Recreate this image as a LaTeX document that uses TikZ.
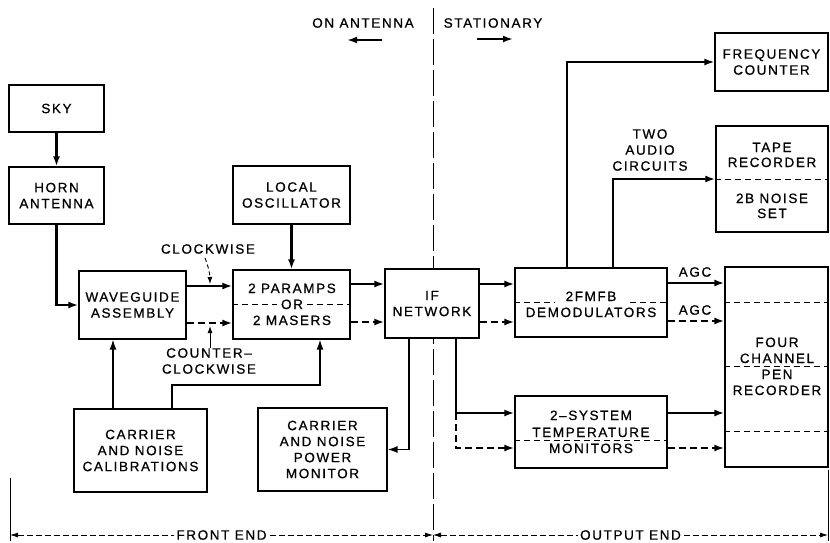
\documentclass[tikz,border=0pt]{standalone}
\usepackage{fontspec}
\setmainfont{Liberation Sans}[LetterSpace=12,FakeBold=0.7]
\usetikzlibrary{arrows.meta}
\begin{document}
\begin{tikzpicture}[x=1pt,y=-1pt,
  every node/.style={font=\fontsize{13.5}{16}\selectfont},
  box/.style={draw, line width=1.2pt, fill=white, inner sep=0pt, align=center},
  lbl/.style={inner sep=0pt, align=center},
  ln/.style={inner sep=0pt, anchor=base},
  tip/.style={-{Latex[length=10pt,width=7pt]}},
  sig/.style={tip, line width=2.6pt},
  sigd/.style={tip, line width=2.6pt, dash pattern=on 7pt off 4pt},
  thin/.style={tip, line width=1.4pt},
  divd/.style={line width=0.8pt, dash pattern=on 6pt off 4pt},
  sep/.style={line width=1pt, dash pattern=on 26pt off 5pt}]
\useasboundingbox (0,0) rectangle (830,542);
% centre divider
\draw[sep] (433,8) -- (433,541);
% boxes
\node[box, minimum width=95, minimum height=47] (sky) at (56.5,108.5) {SKY};
\node[box, minimum width=95, minimum height=57] (horn) at (56.5,195.5) {HORN\\ANTENNA};
\node[box, minimum width=117, minimum height=58] (lo) at (291.5,195) {LOCAL\\OSCILLATOR};
\node[box, minimum width=107, minimum height=68] (wg) at (132.5,305) {WAVEGUIDE\\ASSEMBLY};
\node[box, minimum width=117, minimum height=69] (par) at (291.5,304.5) {};
\node[box, minimum width=94, minimum height=69] (ifn) at (432,303.5) {IF\\NETWORK};
\node[box, minimum width=152, minimum height=69] (dem) at (591,302.5) {};
\node[box, minimum width=103, minimum height=200] (pen) at (776.5,367) {};
\node[box, minimum width=152, minimum height=72] (temp) at (591,432) {};
\node[box, minimum width=133, minimum height=83] (cal) at (140.5,450.5) {CARRIER\\AND NOISE\\CALIBRATIONS};
\node[box, minimum width=129, minimum height=83] (pow) at (322.5,449.5) {CARRIER\\AND NOISE\\POWER\\MONITOR};
\node[box, minimum width=113, minimum height=58] (freq) at (771.5,62) {FREQUENCY\\COUNTER};
\node[box, minimum width=112, minimum height=106] (tape) at (772,179) {};
% dividers inside boxes
\draw[divd] (par.west|-0,304) -- (277,304);
\draw[divd] (307,304) -- (par.east|-0,304);
\draw[divd] (dem.west|-0,302) -- (555,302);
\draw[divd] (630,302) -- (dem.east|-0,302);
\draw[divd] (temp.west|-0,440) -- (temp.east|-0,440);
\draw[divd] (pen.west|-0,302) -- (pen.east|-0,302);
\draw[divd] (pen.west|-0,366) -- (pen.east|-0,366);
\draw[divd] (pen.west|-0,431) -- (pen.east|-0,431);
\draw[divd] (tape.west) -- (tape.east);
% box texts, line by line on their baselines
\node[ln] (par1) at (292,293) {2 PARAMPS};
\node[ln] (par2) at (292,309) {OR};
\node[ln] (par3) at (292,325) {2 MASERS};
\node[ln] (dem1) at (591,301) {2FMFB};
\node[ln] (dem2) at (591,317) {DEMODULATORS};
\node[ln] (tmp1) at (591,420) {2–SYSTEM};
\node[ln] (tmp2) at (591,437) {TEMPERATURE};
\node[ln] (tmp3) at (591,453) {MONITORS};
\node[ln] (pen1) at (777,347) {FOUR};
\node[ln] (pen2) at (777,363) {CHANNEL};
\node[ln] (pen3) at (777,379) {PEN};
\node[ln] (pen4) at (777,395) {RECORDER};
\node[ln] (tap1) at (772,152) {TAPE};
\node[ln] (tap2) at (772,167) {RECORDER};
\node[ln] (tap3) at (772,203) {2B NOISE};
\node[ln] (tap4) at (772,218) {SET};
% signal connectors
\draw[sig] (sky.south) -- (horn.north);
\draw[sig] (horn.south) |- (wg.west);
\draw[sig] (lo.south) -- (par.north);
\draw[sig] (wg.east|-0,286) -- (par.west|-0,286);
\draw[sigd] (wg.east|-0,323) -- (par.west|-0,323);
\draw[sig] (par.east|-0,284) -- (ifn.west|-0,284);
\draw[sigd] (par.east|-0,322) -- (ifn.west|-0,322);
\draw[sig] (ifn.east|-0,284) -- (dem.west|-0,284);
\draw[sigd] (ifn.east|-0,322) -- (dem.west|-0,322);
\draw[sig] (dem.east|-0,283) -- (pen.west|-0,283);
\draw[sigd] (dem.east|-0,321) -- (pen.west|-0,321);
\coordinate (ift) at (456,413);
\coordinate (ifd) at (456,448);
\draw[sig] (ifn.south-|ift) -- (ift) -- (temp.west|-ift);
\draw[sigd] (ift) -- (ifd) -- (temp.west|-ifd);
\draw[sig] (temp.east|-0,413) -- (pen.west|-0,413);
\draw[sigd] (temp.east|-0,448) -- (pen.west|-0,448);
\draw[thin] (ifn.south-|409,0) |- (pow.east);
\draw[thin] (cal.north-|113,0) -- (wg.south-|113,0);
\coordinate (calc) at (320,385);
\draw[thin] (cal.north-|172,0) |- (calc) -- (par.south-|calc);
\draw[tip, line width=1.8pt] (dem.north-|567,0) |- (freq.west);
\draw[sig] (dem.north-|613,0) |- (tape.west);
% labels
\node[lbl] (agc1) at (695,272) {AGC};
\node[lbl] (agc2) at (695,310) {AGC};
\node[lbl] (audio) at (650,150) {TWO\\AUDIO\\CIRCUITS};
\node[lbl] (cw) at (208,249) {CLOCKWISE};
\node[lbl] (ccw) at (209,361) {COUNTER–\\CLOCKWISE};
\coordinate (cwt) at (210,284);
\coordinate (ccwt) at (210,326);
\draw[-{Latex[length=7pt,width=5pt]}, line width=0.9pt, dash pattern=on 4pt off 3pt] (205,258) to[bend left=10] (cwt);
\draw[-{Latex[length=7pt,width=5pt]}, line width=0.9pt] (ccw.north-|ccwt) -- (ccwt);
\node[lbl] (onant) at (363,23) {ON ANTENNA};
\node[lbl] (stat) at (493,23) {STATIONARY};
\coordinate (a1) at (382,40); \coordinate (a2) at (347,40);
\coordinate (b1) at (477,39); \coordinate (b2) at (513,39);
\draw[sig] (a1) -- (a2);
\draw[sig] (b1) -- (b2);
% bottom span
\coordinate (bl) at (10,535); \coordinate (bm) at (433,535); \coordinate (br) at (828,535);
\draw[line width=1pt] (10,478) -- (10,541);
\draw[line width=1pt] (828,470) -- (828,541);
\draw[{Latex[length=8pt,width=5pt]}-{Latex[length=8pt,width=5pt]}, line width=0.8pt, dash pattern=on 6pt off 3pt] (bl) -- node[fill=white, inner sep=2pt] {FRONT END} (bm);
\draw[{Latex[length=8pt,width=5pt]}-{Latex[length=8pt,width=5pt]}, line width=0.8pt, dash pattern=on 6pt off 3pt] (bm) -- node[fill=white, inner sep=2pt] {OUTPUT END} (br);
\end{tikzpicture}
\end{document}
